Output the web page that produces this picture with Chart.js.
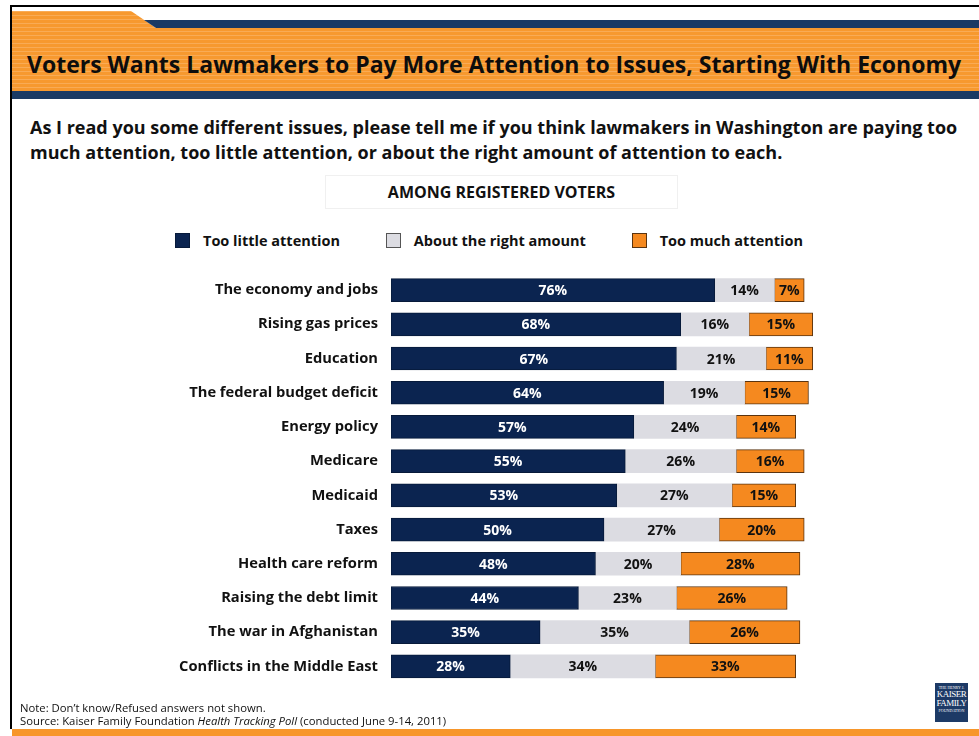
<!DOCTYPE html>
<html>
<head>
<meta charset="utf-8">
<script src="https://cdn.jsdelivr.net/npm/chart.js@4"></script>
<style>
  html, body { margin: 0; padding: 0; background: #fff; }
  body { width: 979px; height: 736px; position: relative; overflow: hidden; font-family: "Open Sans", Lato, sans-serif; color: #111; }
  .abs { position: absolute; }
  #frameTop { left: 10px; top: 5px; width: 969px; height: 2px; background: #000; }
  #frameLeft { left: 10px; top: 5px; width: 2px; height: 724px; background: #000; }
  #footStrip { left: 12px; top: 729px; width: 967px; height: 7px; background: #f7962a; }
  #title { left: 27px; top: 49px; font-size: 23px; line-height: 30px; font-weight: 700; white-space: nowrap; color: #0d0d0d; }
  #question { left: 30px; top: 115px; font-size: 18px; font-weight: 700; line-height: 25px; white-space: nowrap; }
  #among { left: 325px; top: 175px; width: 351px; height: 32px; border: 1px solid #f0f0f0; text-align: center;
           line-height: 32px; font-size: 16px; font-weight: 700; }
  #legend { left: 175px; top: 231px; width: 628px; height: 18px; display: flex; justify-content: space-between; }
  .item { display: flex; align-items: center; font-size: 14.5px; font-weight: 700; white-space: nowrap; }
  .swatch { width: 13px; height: 13px; border: 1px solid; margin-right: 13px; }
  #note { left: 20px; top: 701px; font-size: 11.3px; line-height: 13px; white-space: nowrap; }
  #logo { left: 935px; top: 683px; width: 33px; height: 39px; background: #1d3a66; color: #fff; text-align: center;
          font-family: "Liberation Serif", serif; }
  #logo div { line-height: 1; }
  #chartBox { left: 0; top: 263px; }
</style>
</head>
<body>
<svg class="abs" style="left:0;top:0" width="979" height="100">
  <defs>
    <pattern id="stripes" width="6" height="4" patternUnits="userSpaceOnUse">
      <rect width="6" height="4" fill="#f7992f"/>
      <rect y="3" width="6" height="1" fill="#f9ab55"/>
    </pattern>
  </defs>
  <polygon points="12,11 131,11 156,28 979,28 979,91 12,91" fill="url(#stripes)"/>
  <polygon points="144,20 979,20 979,28 156,28" fill="#1a3a64"/>
  <rect x="12" y="91" width="967" height="8" fill="#1a3a64"/>
</svg>
<div class="abs" id="frameTop"></div>
<div class="abs" id="frameLeft"></div>
<div class="abs" id="title">Voters Wants Lawmakers to Pay More Attention to Issues, Starting With Economy</div>
<div class="abs" id="question">As I read you some different issues, please tell me if you think lawmakers in Washington are paying too<br>much attention, too little attention, or about the right amount of attention to each.</div>
<div class="abs" id="among">AMONG REGISTERED VOTERS</div>
<div class="abs" id="legend"></div>
<div class="abs" id="chartBox"><canvas id="attention" width="979" height="440"></canvas></div>
<div class="abs" id="note">Note: Don’t know/Refused answers not shown.<br>Source: Kaiser Family Foundation <i>Health Tracking Poll</i> (conducted June 9-14, 2011)</div>
<div class="abs" id="logo">
  <div style="font-size:4px;padding-top:3px">THE HENRY J.</div>
  <div style="font-size:9px;letter-spacing:-0.5px">KAISER</div>
  <div style="font-size:9px;letter-spacing:-0.5px">FAMILY</div>
  <div style="font-size:4px;padding-top:1px">FOUNDATION</div>
</div>
<div class="abs" id="footStrip"></div>

<script>
const categories = [
  'The economy and jobs', 'Rising gas prices', 'Education', 'The federal budget deficit',
  'Energy policy', 'Medicare', 'Medicaid', 'Taxes', 'Health care reform',
  'Raising the debt limit', 'The war in Afghanistan', 'Conflicts in the Middle East'
];
const tooLittle  = [76, 68, 67, 64, 57, 55, 53, 50, 48, 44, 35, 28];
const aboutRight = [14, 16, 21, 19, 24, 26, 27, 27, 20, 23, 35, 34];
const tooMuch    = [7, 15, 11, 15, 14, 16, 15, 20, 28, 26, 26, 33];

const seriesNames = ['Too little attention', 'About the right amount', 'Too much attention'];
const fills   = ['#0b2450', '#dcdce2', '#f5891f'];
const borders = ['#071a3a', '#9a9aa2', '#5a3410'];
const labelColors = ['#ffffff', '#111111', '#111111'];

const FONT = '"Open Sans", Lato, sans-serif';

// percentages printed in the middle of each segment
const segmentLabels = {
  id: 'segmentLabels',
  afterDatasetsDraw(chart) {
    const ctx = chart.ctx;
    ctx.save();
    ctx.font = 'bold 14px ' + FONT;
    ctx.textAlign = 'center';
    ctx.textBaseline = 'middle';
    chart.data.datasets.forEach((ds, i) => {
      const meta = chart.getDatasetMeta(i);
      ctx.fillStyle = labelColors[i];
      meta.data.forEach((bar, j) => {
        const c = bar.getCenterPoint();
        ctx.fillText(ds.data[j] + '%', c.x, c.y + 1);
      });
    });
    ctx.restore();
  }
};

const chart = new Chart(document.getElementById('attention'), {
  type: 'bar',
  data: {
    labels: categories,
    datasets: [tooLittle, aboutRight, tooMuch].map((vals, i) => ({
      label: seriesNames[i],
      data: vals,
      backgroundColor: fills[i],
      borderColor: borders[i],
      borderWidth: i === 1 ? 0 : 1,
      borderSkipped: false,
      barThickness: 23
    }))
  },
  options: {
    indexAxis: 'y',
    responsive: false,
    animation: false,
    layout: { padding: { top: 10, right: 162, bottom: 19.5, left: 0 } },
    scales: {
      x: { stacked: true, min: 0, max: 100, display: false },
      y: {
        stacked: true,
        grid: { display: false, drawTicks: false },
        border: { display: false },
        ticks: { padding: 13, color: '#111', font: { family: FONT, size: 14.7, weight: 'bold' } },
        afterFit(scale) {
          scale.width = 391;
          scale.paddingTop = 0;
          scale.paddingBottom = 0;
        }
      }
    },
    plugins: {
      legend: { display: false },
      tooltip: { enabled: false }
    }
  },
  plugins: [segmentLabels]
});

// legend row built from the chart's own datasets
const legendEl = document.getElementById('legend');
chart.options.plugins.legend.labels.generateLabels(chart).forEach((item, i) => {
  const el = document.createElement('div');
  el.className = 'item';
  const sw = document.createElement('span');
  sw.className = 'swatch';
  sw.style.background = item.fillStyle;
  sw.style.borderColor = i === 1 ? '#555' : item.strokeStyle;
  el.appendChild(sw);
  el.appendChild(document.createTextNode(item.text));
  legendEl.appendChild(el);
});
</script>
</body>
</html>
